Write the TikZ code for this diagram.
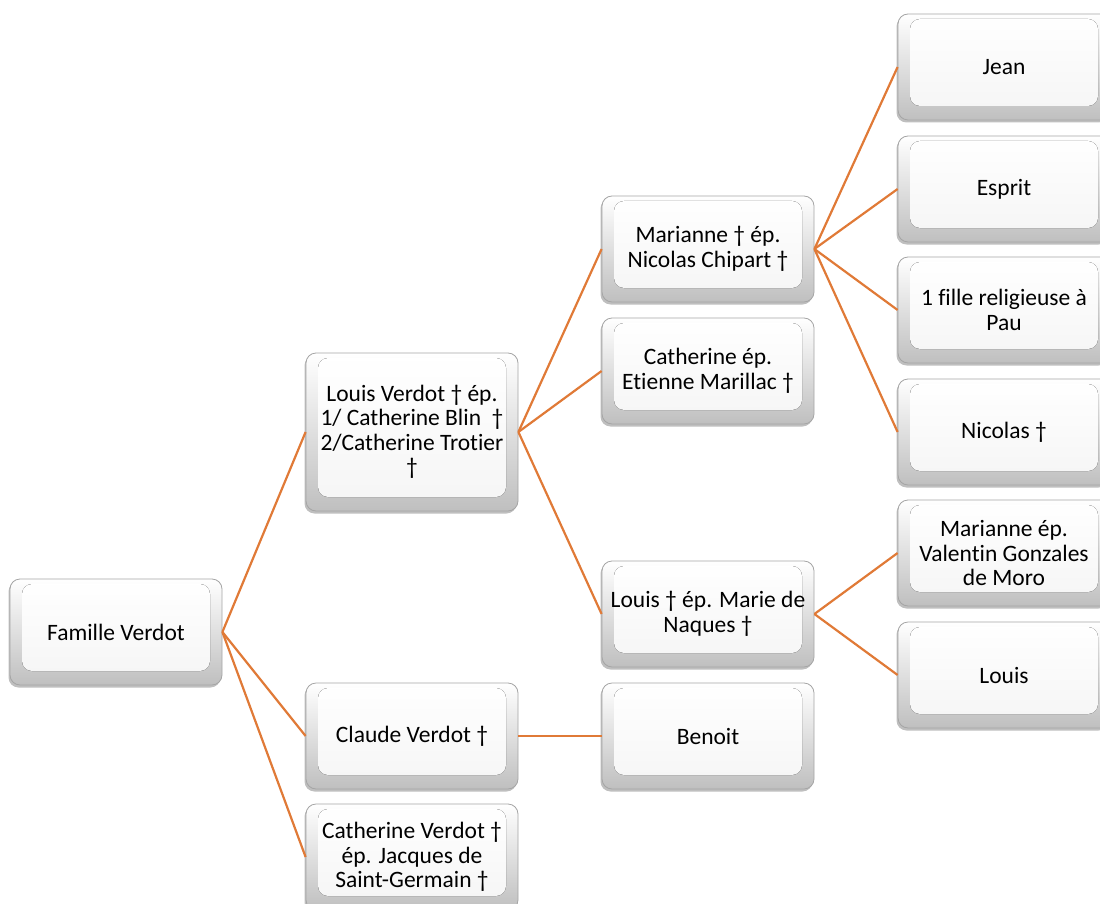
\documentclass[tikz,border=0pt]{standalone}
\usepackage{fontspec}
\setmainfont{Carlito}[Ligatures=NoCommon]
\usetikzlibrary{shadows}
\definecolor{conn}{RGB}{224,122,55}
\definecolor{frame}{RGB}{165,165,165}
\tikzset{
  box/.style={rounded corners=10pt, draw=frame, line width=0.8pt,
    top color=white, bottom color=black!25,
    minimum width=212pt, minimum height=106pt, align=center, inner sep=0pt,
    font=\fontsize{23.5pt}{24.5pt}\selectfont,
    drop shadow={shadow xshift=-1.5pt, shadow yshift=-2.5pt, opacity=0.25, fill=black},
    path picture={
      \fill[top color=white, bottom color=black!4]
        ([shift={(12pt,-5pt)}]path picture bounding box.north west)
        rectangle ([shift={(-12pt,14pt)}]path picture bounding box.south east);
    }},
  link/.style={draw=conn, line width=2.2pt}
}
\begin{document}
\begin{tikzpicture}[x=1pt,y=-1pt]
\useasboundingbox (0,0) rectangle (1100,904);
\clip (0,0) rectangle (1100,904);
\node[box] (fam) at (116,632) {Famille Verdot};
\node[box, minimum height=158pt] (lv) at (412,432) {Louis Verdot † ép.\\1/ Catherine Blin\ \ †\\2/Catherine Trotier\\†};
\node[box] (cv) at (412,736) {Claude Verdot †};
\node[box] (cat) at (412,857) {Catherine Verdot †\\ép. Jacques de\\Saint-Germain †};
\node[box] (mar) at (708,249) {Marianne † ép.\\Nicolas Chipart †};
\node[box] (cep) at (708,371) {Catherine ép.\\Etienne Marillac †};
\node[box] (lep) at (708,614) {Louis † ép. Marie de\\Naques †};
\node[box] (ben) at (708,736) {Benoit};
\node[box] (jean) at (1004,67) {Jean};
\node[box] (esp) at (1004,189) {Esprit};
\node[box] (fil) at (1004,310) {1 fille religieuse à\\Pau};
\node[box] (nic) at (1004,432) {Nicolas †};
\node[box] (mv) at (1004,553) {Marianne ép.\\Valentin Gonzales\\de Moro};
\node[box] (lou) at (1004,675) {Louis};
\draw[link] (fam.east) -- (lv.west);
\draw[link] (fam.east) -- (cv.west);
\draw[link] (fam.east) -- (cat.west);
\draw[link] (lv.east) -- (mar.west);
\draw[link] (lv.east) -- (cep.west);
\draw[link] (lv.east) -- (lep.west);
\draw[link] (cv.east) -- (ben.west);
\draw[link] (mar.east) -- (jean.west);
\draw[link] (mar.east) -- (esp.west);
\draw[link] (mar.east) -- (fil.west);
\draw[link] (mar.east) -- (nic.west);
\draw[link] (lep.east) -- (mv.west);
\draw[link] (lep.east) -- (lou.west);
\end{tikzpicture}
\end{document}
